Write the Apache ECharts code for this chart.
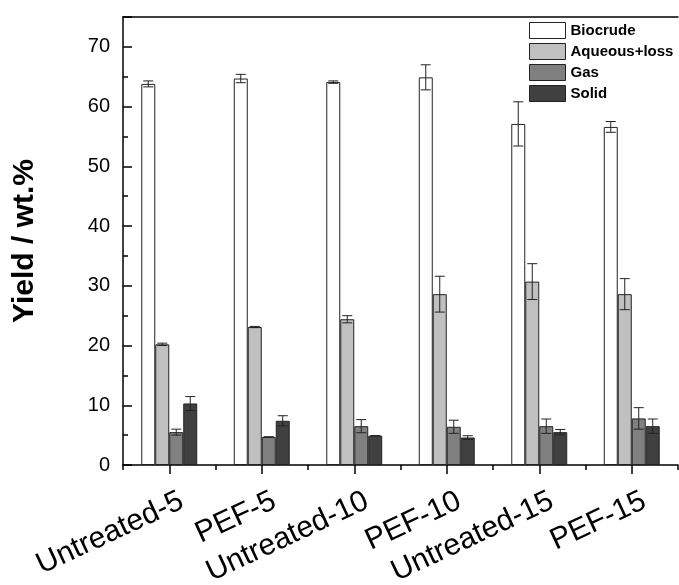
<!DOCTYPE html>
<html>
<head>
<meta charset="utf-8">
<script src="https://cdn.jsdelivr.net/npm/echarts@6/dist/echarts.min.js"></script>
<style>
html,body{margin:0;padding:0;background:#fff;}
#c{width:679px;height:585px;}
</style>
</head>
<body>
<div id="c"></div>
<script>
var categories = ['Untreated-5','PEF-5','Untreated-10','PEF-10','Untreated-15','PEF-15'];
var seriesNames = ['Biocrude','Aqueous+loss','Gas','Solid'];
var biocrude = [63.8, 64.7, 64.1, 64.9, 57.1, 56.6];
var biocrudeErr = [0.5, 0.7, 0.2, 2.1, 3.7, 0.9];
var aqueous = [20.2, 23.1, 24.4, 28.6, 30.7, 28.6];
var aqueousErr = [0.2, 0.1, 0.6, 3.0, 3.0, 2.6];
var gas = [5.5, 4.7, 6.5, 6.4, 6.5, 7.8];
var gasErr = [0.5, 0.0, 1.1, 1.1, 1.2, 1.8];
var solid = [10.3, 7.4, 4.9, 4.6, 5.5, 6.5];
var solidErr = [1.15, 0.85, 0.0, 0.3, 0.45, 1.2];
var yTicks = [0, 10, 20, 30, 40, 50, 60, 70];

var values = [biocrude, aqueous, gas, solid];
var errors = [biocrudeErr, aqueousErr, gasErr, solidErr];
var colors = ['#ffffff', '#c0c0c0', '#808080', '#404040'];
var CAT_GAP = 0.395;
var FONT = 'Liberation Sans, Arial, sans-serif';

var chart = echarts.init(document.getElementById('c'), null, {renderer: 'canvas'});

var series = [];
seriesNames.forEach(function (name, k) {
  series.push({
    name: name,
    type: 'bar',
    xAxisIndex: 0,
    data: values[k],
    barGap: 0,
    barCategoryGap: (CAT_GAP * 100) + '%',
    itemStyle: {color: colors[k], borderColor: '#222', borderWidth: 1},
    emphasis: {disabled: true},
    z: 2
  });
});
seriesNames.forEach(function (name, k) {
  series.push({
    name: name + ' err',
    type: 'custom',
    xAxisIndex: 0,
    z: 5,
    data: values[k].map(function (v, i) { return [i, v, errors[k][i]]; }),
    encode: {x: 0, y: 1},
    renderItem: function (params, api) {
      var i = api.value(0), v = api.value(1), e = api.value(2);
      var catW = api.size([1, 0])[0];
      var bw = catW * (1 - CAT_GAP) / 4;
      var cx = api.coord([i, v])[0] + (k - 1.5) * bw;
      var yt = api.coord([i, v + e])[1];
      var yb = api.coord([i, v - e])[1];
      var hw = 5;
      var st = {stroke: '#222', lineWidth: 1, fill: null};
      return {
        type: 'group',
        children: [
          {type: 'line', shape: {x1: cx, y1: yt, x2: cx, y2: yb}, style: st},
          {type: 'line', shape: {x1: cx - hw, y1: yt, x2: cx + hw, y2: yt}, style: st},
          {type: 'line', shape: {x1: cx - hw, y1: yb, x2: cx + hw, y2: yb}, style: st}
        ]
      };
    }
  });
});

var option = {
  animation: false,
  backgroundColor: '#fff',
  textStyle: {fontFamily: FONT},
  grid: {left: 123, right: 1, top: 17, bottom: 120, containLabel: false, outerBoundsMode: 'none'},
  legend: {
    data: seriesNames,
    orient: 'vertical',
    left: 524,
    top: 17,
    itemWidth: 36,
    itemHeight: 16,
    itemGap: 4,
    icon: 'rect',
    itemStyle: {borderColor: '#222', borderWidth: 1},
    textStyle: {fontFamily: FONT, fontWeight: 'bold', fontSize: 15, color: '#000'},
    selectedMode: false
  },
  xAxis: [
    {
      type: 'category',
      data: categories,
      position: 'bottom',
      axisLine: {show: true, lineStyle: {color: '#000', width: 1.5}},
      axisTick: {show: true, alignWithLabel: true, length: 9, lineStyle: {color: '#000', width: 1.5}},
      axisLabel: {rotate: 25, fontSize: 30, color: '#000', fontFamily: FONT, margin: 24, interval: 0,
                  align: 'right', verticalAlign: 'top', padding: [0, -7, 0, 0]},
      splitLine: {show: false}
    },
    {
      type: 'category',
      data: categories,
      position: 'bottom',
      axisLine: {show: false},
      axisTick: {show: true, length: 5, lineStyle: {color: '#000', width: 1.5}},
      axisLabel: {show: false},
      splitLine: {show: false}
    },
    {
      type: 'category',
      data: categories,
      position: 'top',
      axisLine: {show: true, lineStyle: {color: '#000', width: 1.5}},
      axisTick: {show: false},
      axisLabel: {show: false},
      splitLine: {show: false}
    }
  ],
  yAxis: {
    type: 'value',
    min: 0,
    max: 75,
    interval: 10,
    name: 'Yield / wt.%',
    nameLocation: 'middle',
    nameGap: 83,
    nameTextStyle: {fontSize: 30, fontWeight: 'bold', color: '#000', fontFamily: FONT},
    axisLine: {show: true, lineStyle: {color: '#000', width: 1.5}},
    axisTick: {show: true, inside: true, length: 9, lineStyle: {color: '#000', width: 1.5}},
    minorTick: {show: true, splitNumber: 2, length: 5, lineStyle: {color: '#000', width: 1.5}},
    axisLabel: {
      fontSize: 20, color: '#000', fontFamily: FONT, margin: 13,
      formatter: function (v) { return yTicks.indexOf(v) >= 0 ? String(v) : ''; }
    },
    splitLine: {show: false},
    minorSplitLine: {show: false}
  },
  series: series
};
chart.setOption(option);
</script>
</body>
</html>
